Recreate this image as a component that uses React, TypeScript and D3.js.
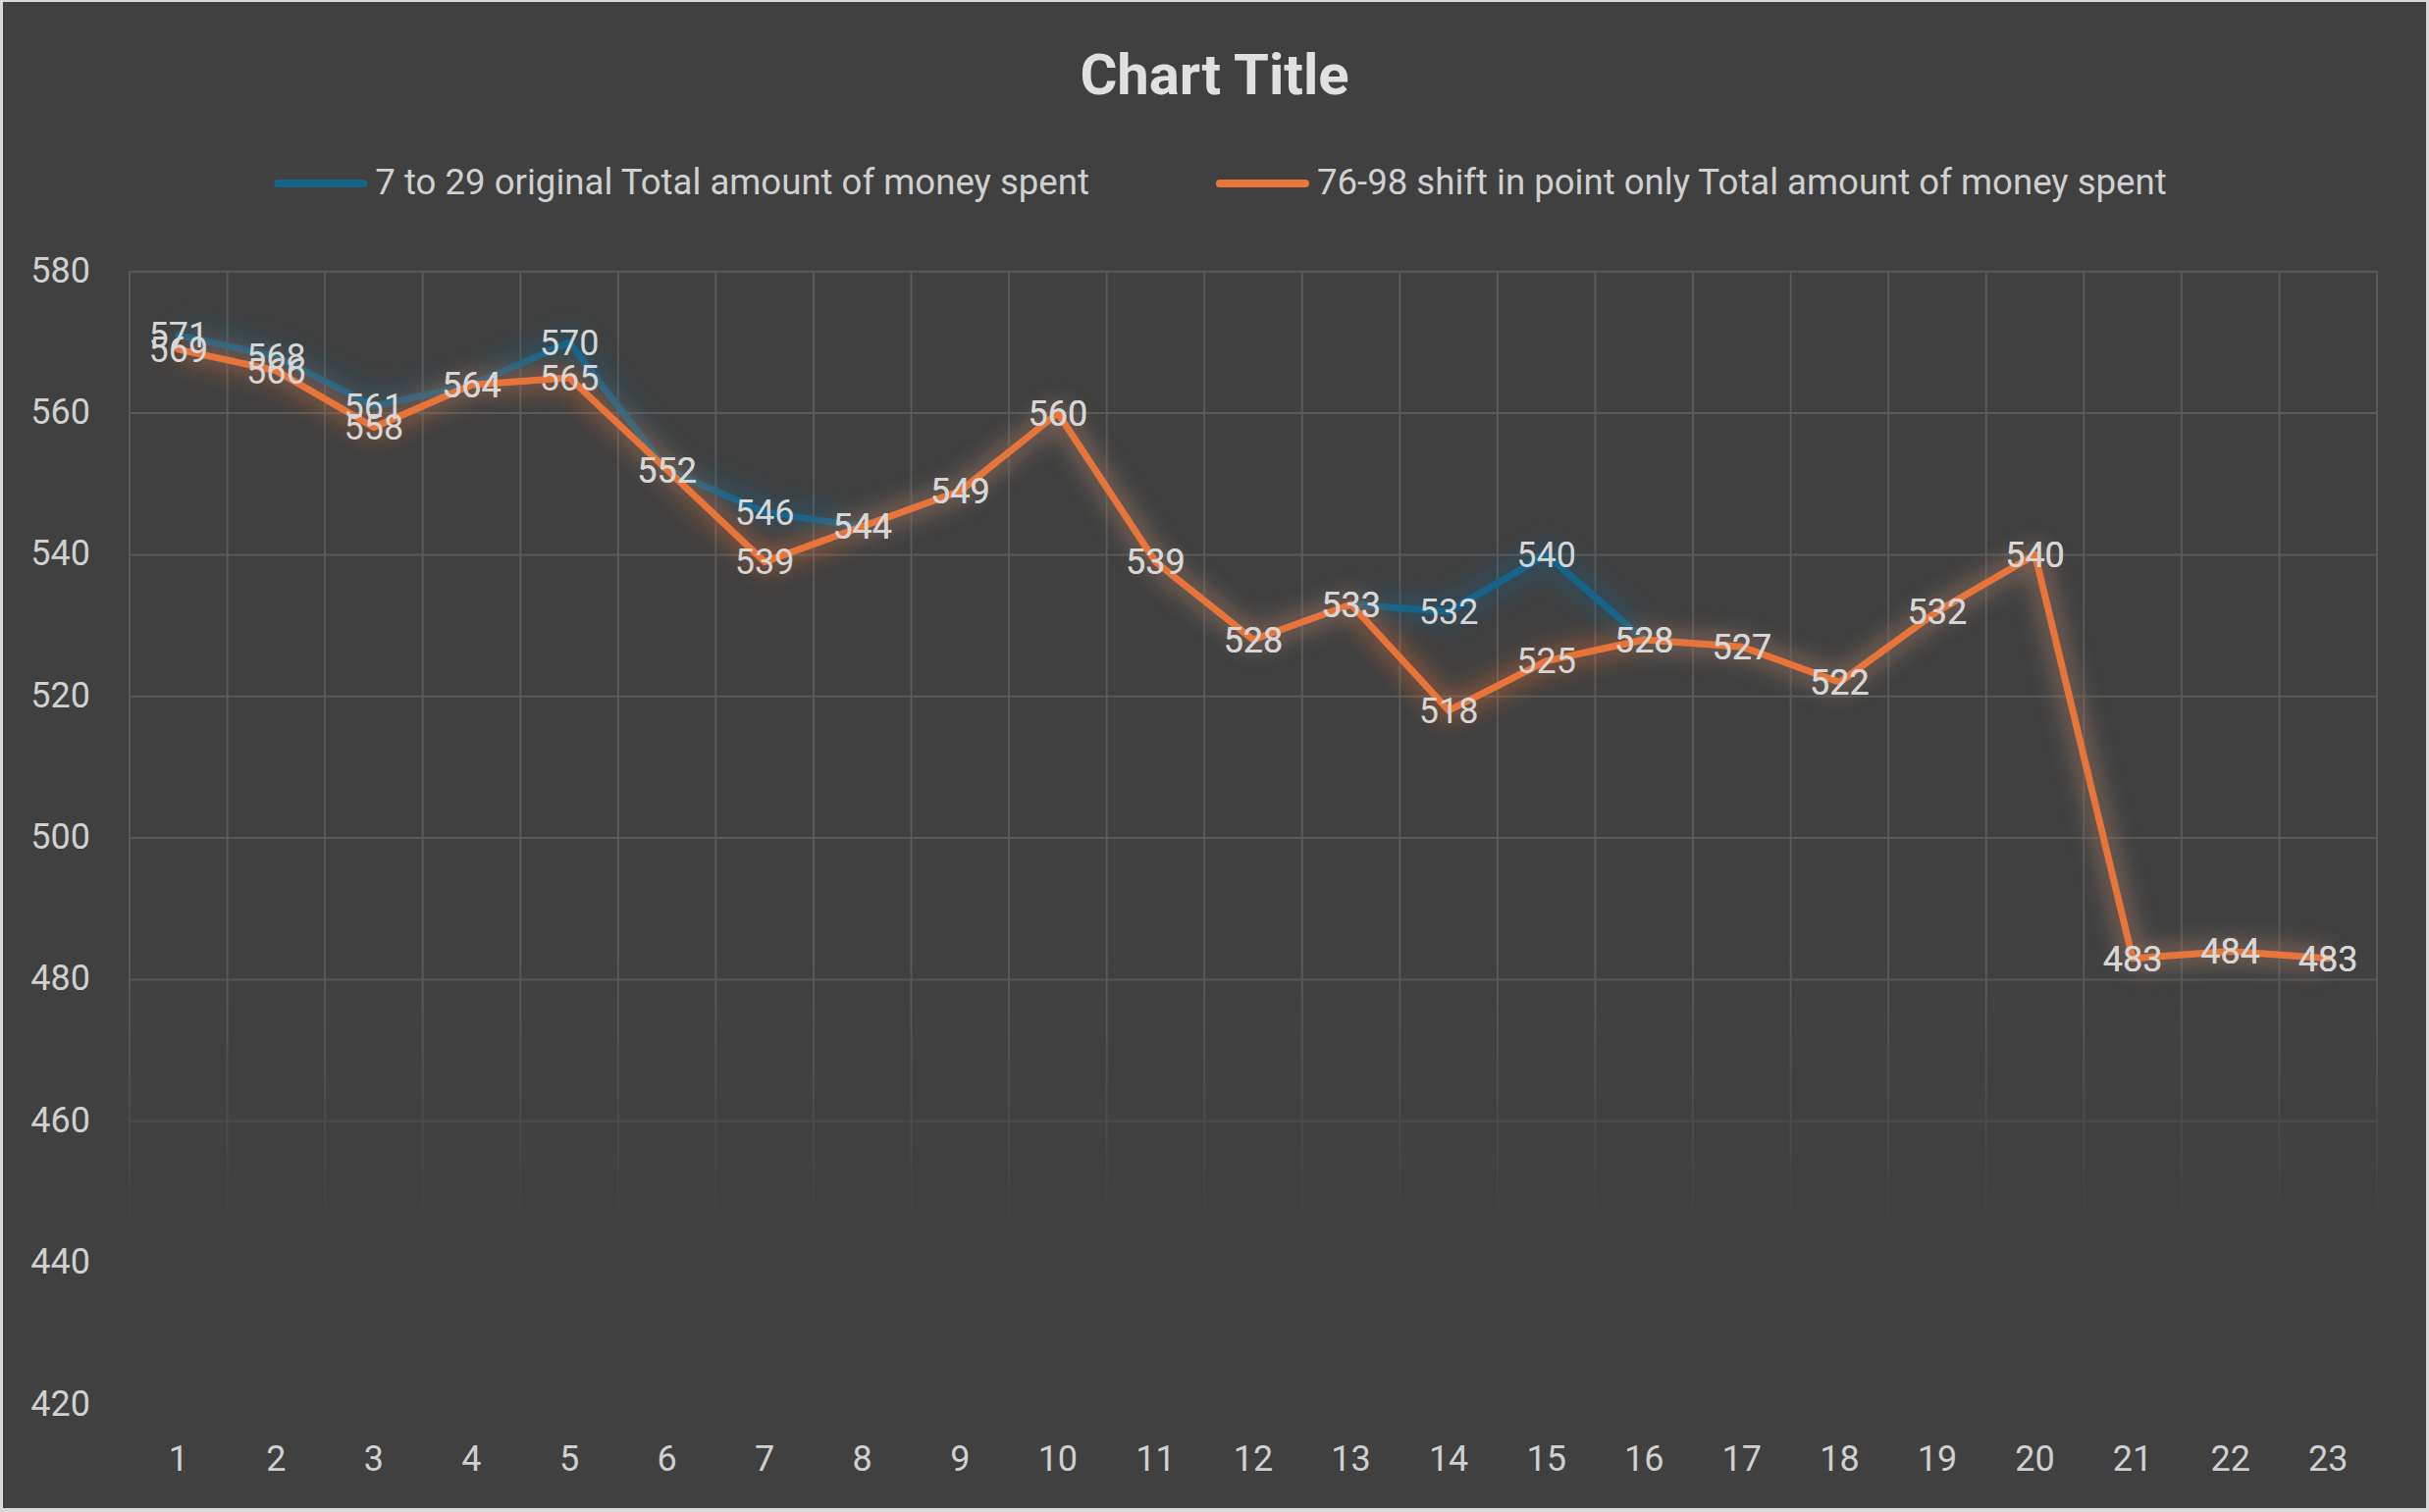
import { useEffect, useRef } from 'react';
import * as d3 from 'd3';

const categories = ['1', '2', '3', '4', '5', '6', '7', '8', '9', '10', '11', '12', '13', '14', '15', '16', '17', '18', '19', '20', '21', '22', '23'];
const originalValues = [571, 568, 561, 564, 570, 552, 546, 544, 549, 560, 539, 528, 533, 532, 540, 528, 527, 522, 532, 540, 483, 484, 483];
const shiftedValues = [569, 566, 558, 564, 565, 552, 539, 544, 549, 560, 539, 528, 533, 518, 525, 528, 527, 522, 532, 540, 483, 484, 483];
const yTicks = [420, 440, 460, 480, 500, 520, 540, 560, 580];
const seriesNames = [
  '7 to 29 original Total amount of money spent',
  '76-98 shift in point only Total amount of money spent',
];
const seriesColors = ['#17648a', '#e9743a'];

const App = () => {
  const chartRef = useRef<SVGSVGElement | null>(null);

  useEffect(() => {
    if (!chartRef.current) return;
    d3.select(chartRef.current).selectAll('*').remove();

    const width = 2475;
    const height = 1541;
    const font = 'Roboto, "Noto Sans", sans-serif';
    const plot = { left: 132, right: 2422, top: 276.7, bottom: 1431.5 };

    const svg = d3.select(chartRef.current)
      .attr('width', width)
      .attr('height', height);

    // frame + background
    svg.append('rect').attr('width', width).attr('height', height).attr('fill', '#d9d9d9');
    svg.append('rect')
      .attr('x', 3).attr('y', 2)
      .attr('width', width - 6).attr('height', height - 6)
      .attr('fill', '#404040');

    const defs = svg.append('defs');
    const grad = defs.append('linearGradient')
      .attr('id', 'gridFade')
      .attr('gradientUnits', 'userSpaceOnUse')
      .attr('x1', 0).attr('x2', 0).attr('y1', 980).attr('y2', 1260);
    grad.append('stop').attr('offset', 0).attr('stop-color', '#fff');
    grad.append('stop').attr('offset', 1).attr('stop-color', '#000');
    defs.append('mask').attr('id', 'gridMask')
      .append('rect').attr('width', width).attr('height', height).attr('fill', 'url(#gridFade)');
    defs.append('filter').attr('id', 'glow')
      .attr('x', '-10%').attr('y', '-20%').attr('width', '120%').attr('height', '140%')
      .append('feGaussianBlur').attr('stdDeviation', 12);

    const x = d3.scaleBand().domain(categories).range([plot.left, plot.right]);
    const cx = (c: string) => (x(c) || 0) + x.bandwidth() / 2;
    const y = d3.scaleLinear().domain([420, 580]).range([plot.bottom, plot.top]);

    // gridlines
    const grid = svg.append('g').attr('mask', 'url(#gridMask)')
      .attr('stroke', '#5a5a5a').attr('stroke-width', 2);
    grid.selectAll('.hgrid').data(yTicks).enter().append('line')
      .attr('x1', plot.left).attr('x2', plot.right)
      .attr('y1', d => y(d)).attr('y2', d => y(d));
    const bounds = categories.map(c => x(c) || 0).concat([plot.right]);
    grid.selectAll('.vgrid').data(bounds).enter().append('line')
      .attr('x1', d => d).attr('x2', d => d)
      .attr('y1', plot.top).attr('y2', plot.bottom);

    // axis labels
    svg.append('g').selectAll('text').data(yTicks).enter().append('text')
      .attr('x', 92).attr('y', d => y(d) + 11)
      .attr('text-anchor', 'end')
      .attr('font-family', font).attr('font-size', 36).attr('fill', '#d0d0d0')
      .text(d => d);
    svg.append('g').selectAll('text').data(categories).enter().append('text')
      .attr('x', d => cx(d)).attr('y', 1498.6)
      .attr('text-anchor', 'middle')
      .attr('font-family', font).attr('font-size', 36).attr('fill', '#d0d0d0')
      .text(d => d);

    // lines
    const series = [originalValues, shiftedValues];
    const line = d3.line<number>()
      .x((_, i) => cx(categories[i]))
      .y(d => y(d));

    series.forEach((values, si) => {
      svg.append('path')
        .attr('d', line(values))
        .attr('fill', 'none')
        .attr('stroke', seriesColors[si])
        .attr('stroke-width', 20)
        .attr('stroke-linejoin', 'round')
        .attr('opacity', 0.45)
        .attr('filter', 'url(#glow)');
      svg.append('path')
        .attr('d', line(values))
        .attr('fill', 'none')
        .attr('stroke', seriesColors[si])
        .attr('stroke-width', 7)
        .attr('stroke-linejoin', 'round')
        .attr('stroke-linecap', 'round');
    });

    // data labels
    series.forEach(values => {
      svg.append('g').selectAll('text').data(values).enter().append('text')
        .attr('x', (_, i) => cx(categories[i]))
        .attr('y', d => y(d) + 12.8)
        .attr('text-anchor', 'middle')
        .attr('font-family', font).attr('font-size', 36).attr('fill', '#d6d6d6')
        .text(d => d);
    });

    // title
    svg.append('text')
      .attr('x', width / 2).attr('y', 96)
      .attr('text-anchor', 'middle')
      .attr('font-family', font).attr('font-weight', 'bold')
      .attr('font-size', 58).attr('fill', '#e0e0e0')
      .text('Chart Title');

    // legend, centred on the chart
    const legend = svg.append('g');
    const lineLen = 95;
    const textGap = 8;
    const itemGap = 129;
    let cursor = 0;
    seriesNames.forEach((name, si) => {
      legend.append('line')
        .attr('x1', cursor + 4).attr('x2', cursor + lineLen - 4)
        .attr('y1', 187).attr('y2', 187)
        .attr('stroke', seriesColors[si]).attr('stroke-width', 8)
        .attr('stroke-linecap', 'round');
      const t = legend.append('text')
        .attr('x', cursor + lineLen + textGap).attr('y', 198)
        .attr('font-family', font).attr('font-size', 36.6).attr('fill', '#d0d0d0')
        .text(name);
      const w = (t.node() as SVGTextElement).getComputedTextLength();
      cursor += lineLen + textGap + w + itemGap;
    });
    const total = cursor - itemGap;
    legend.attr('transform', `translate(${width / 2 + 6 - total / 2},0)`);
  }, []);

  return (
    <div style={{ position: 'absolute', left: 0, top: 0 }}>
      <svg ref={chartRef}></svg>
    </div>
  );
};

export default App;
